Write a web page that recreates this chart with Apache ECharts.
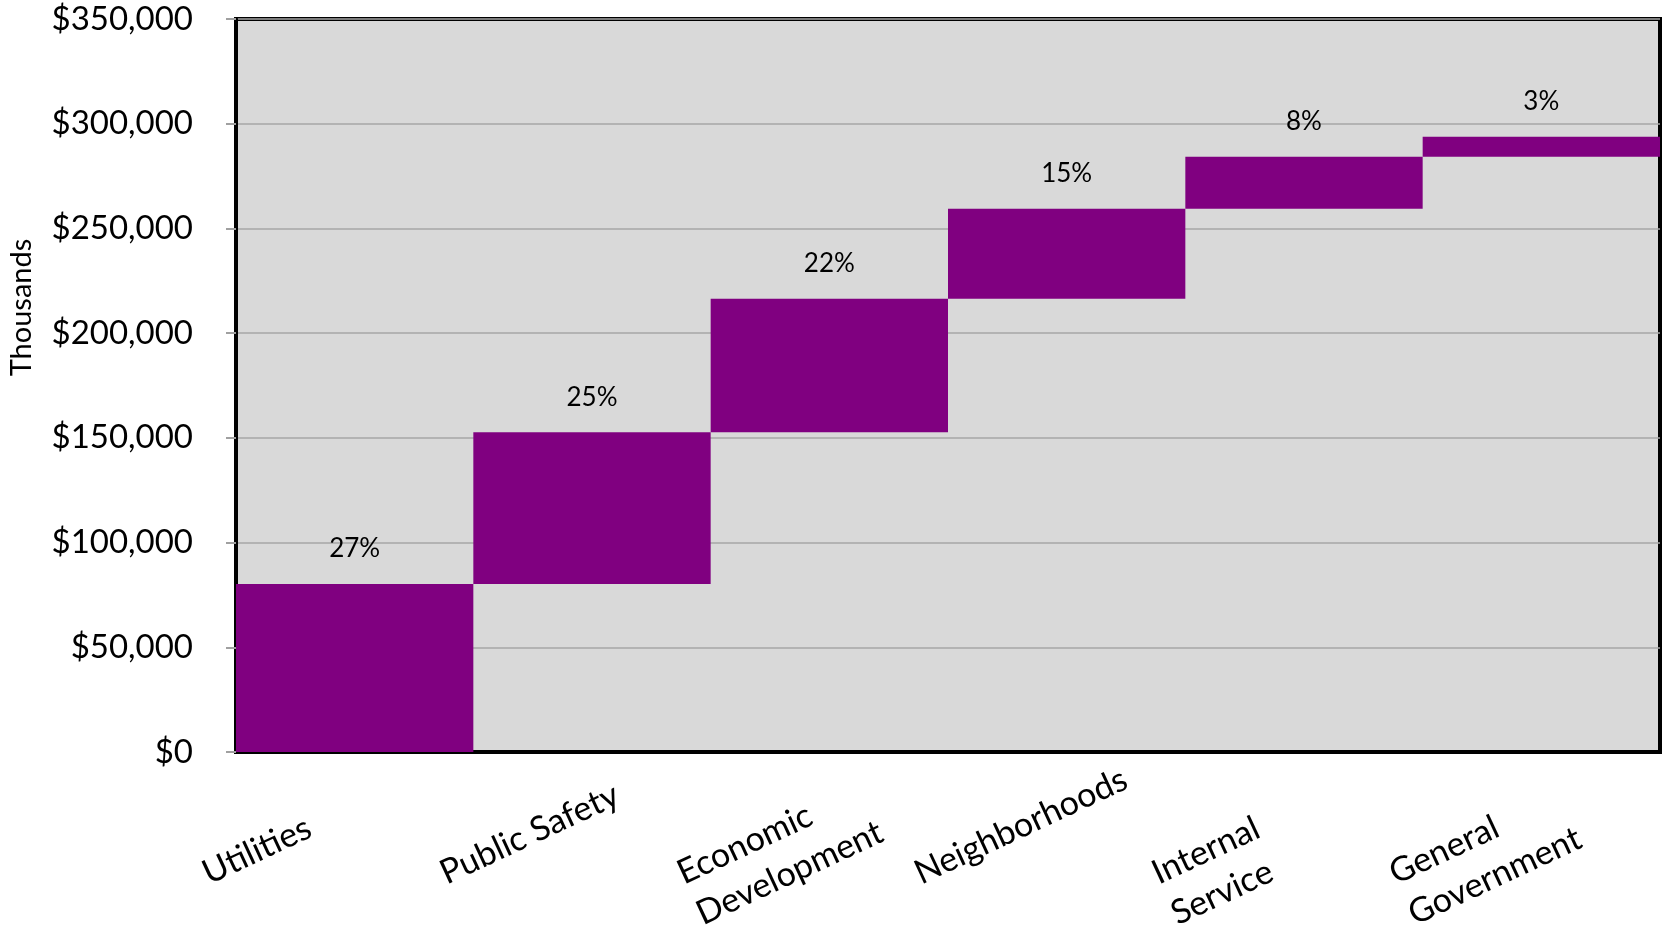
<!DOCTYPE html>
<html>
<head>
<meta charset="utf-8">
<script src="https://cdn.jsdelivr.net/npm/echarts@6/dist/echarts.min.js"></script>
<style>
html,body{margin:0;padding:0;background:#ffffff;}
#chart{width:1665px;height:931px;}
</style>
</head>
<body>
<div id="chart"></div>
<script>
// Data (values in thousands of dollars)
const categories = ['Utilities', 'Public Safety', 'Economic\nDevelopment', 'Neighborhoods', 'Internal\nService', 'General\nGovernment'];
const amounts = [80200, 72500, 63700, 43000, 24800, 9600];
const shareLabels = ['27%', '25%', '22%', '15%', '8%', '3%'];
const yAxisMin = 0;
const yAxisMax = 350000;
const yAxisStep = 50000;

// invisible base for the waterfall: running total of the previous amounts
const bases = [];
let running = 0;
for (let i = 0; i < amounts.length; i++) { bases.push(running); running += amounts[i]; }

const FONT = 'Lato';
const chart = echarts.init(document.getElementById('chart'), null, {renderer: 'canvas'});
chart.setOption({
  animation: false,
  backgroundColor: '#ffffff',
  grid: {
    left: 236, right: 5, top: 19, bottom: 179,
    show: true, backgroundColor: '#d9d9d9', borderColor: '#000000', borderWidth: 4,
    containLabel: false,
    outerBoundsMode: 'none'
  },
  xAxis: {
    type: 'category',
    data: categories,
    axisLine: {show: true, lineStyle: {color: '#000', width: 4}},
    axisTick: {show: false},
    axisLabel: {
      interval: 0, rotate: 25, align: 'right', verticalAlign: 'top',
      width: 176, margin: 28, lineHeight: 45,
      fontFamily: FONT, fontSize: 34, color: '#000',
      formatter: v => v.split('\n').map(s => '{a|' + s + '}').join('\n'),
      rich: {a: {align: 'left', fontFamily: FONT, fontSize: 34, lineHeight: 45, color: '#000'}}
    }
  },
  yAxis: {
    type: 'value',
    min: yAxisMin, max: yAxisMax, interval: yAxisStep,
    name: 'Thousands',
    nameLocation: 'middle',
    nameRotate: 90,
    nameGap: 200,
    nameTextStyle: {fontFamily: FONT, fontSize: 29, color: '#000', padding: [0, 0, 0, 156]},
    axisLine: {show: true, lineStyle: {color: '#000', width: 4}},
    axisTick: {show: true, length: 10, lineStyle: {color: '#a0a0a0', width: 2}},
    splitLine: {show: true, lineStyle: {color: '#a6a6a6', width: 1.5}},
    axisLabel: {
      margin: 43, fontFamily: FONT, fontSize: 33, color: '#000',
      formatter: v => '$' + v.toLocaleString('en-US')
    }
  },
  series: [
    {
      type: 'bar', stack: 'waterfall', data: bases, silent: true,
      barCategoryGap: 0, barGap: 0,
      itemStyle: {color: 'rgba(0,0,0,0)'}
    },
    {
      type: 'bar', stack: 'waterfall', data: amounts,
      barCategoryGap: 0, barGap: 0,
      itemStyle: {color: '#800080'},
      label: {
        show: true, position: 'top', distance: 22,
        formatter: p => shareLabels[p.dataIndex],
        fontFamily: FONT, fontSize: 26, color: '#000'
      }
    }
  ]
});
</script>
</body>
</html>
